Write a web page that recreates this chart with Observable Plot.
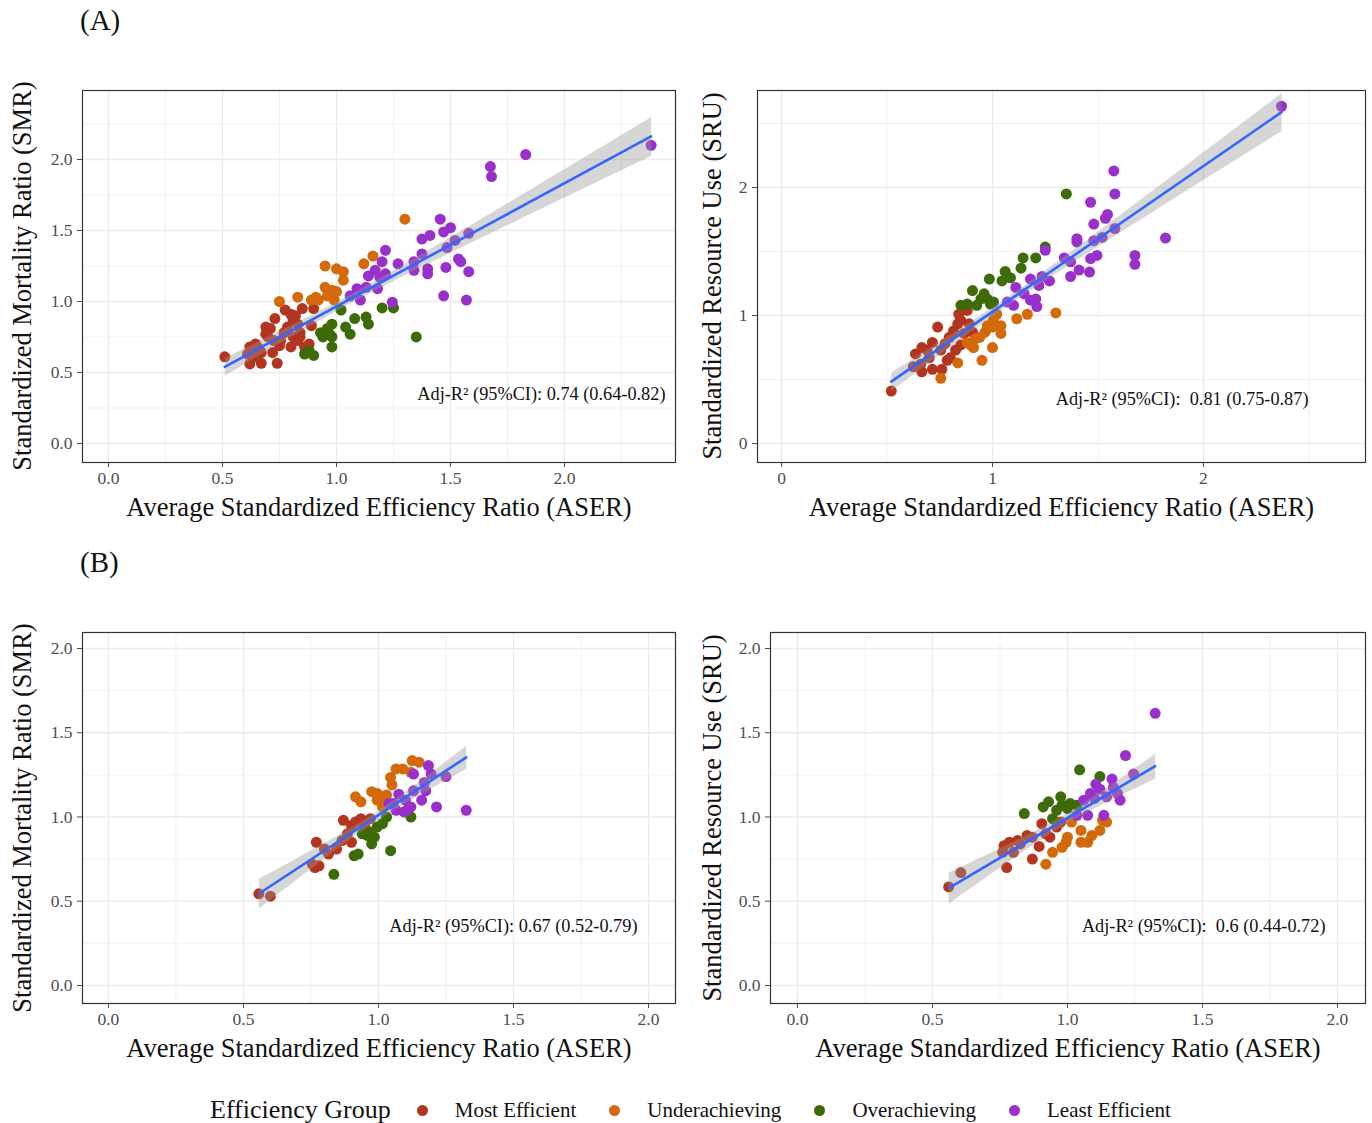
<!DOCTYPE html>
<html>
<head>
<meta charset="utf-8">
<script src="https://cdn.jsdelivr.net/npm/d3@7"></script>
<script src="https://cdn.jsdelivr.net/npm/@observablehq/plot@0.6"></script>
<style>
  html, body { margin: 0; padding: 0; background: #fff; }
  #root { position: relative; width: 1372px; height: 1123px; font-family: 'Liberation Serif', 'Times New Roman', serif; overflow: hidden; }
  .tag { position: absolute; font-size: 29px; color: #111; }
  .ytitle { position: absolute; font-size: 26.5px; color: #111; white-space: nowrap; transform: translate(-50%, -50%) rotate(-90deg); line-height: 1; }
  #legend { position: absolute; left: 210px; top: 1095px; display: flex; align-items: center; white-space: nowrap; color: #111; }
  #legend .ttl { font-size: 26px; margin-right: 26px; }
  #legend .item { display: flex; align-items: center; font-size: 21px; margin-right: 33px; }
  #legend .sw { width: 11px; height: 11px; border-radius: 50%; margin-right: 27px; }
</style>
</head>
<body>
<div id="root">
  <div class="tag" style="left:80px; top:4px;">(A)</div>
  <div class="tag" style="left:80px; top:546px;">(B)</div>
  <div id="legend"></div>
</div>
<script>
// ---------- data ----------
const groups = ["Most Efficient", "Underachieving", "Overachieving", "Least Efficient"];
const groupColors = ["#b3351f", "#d4690a", "#3d6b08", "#9a30cc"];

// Panel A, left: ASER vs SMR
const aSmrMost = [[0.51,0.61],[0.62,0.68],[0.645,0.70],[0.66,0.67],[0.64,0.62],[0.62,0.56],[0.67,0.565],[0.74,0.565],[0.69,0.82],[0.71,0.81],[0.73,0.88],[0.70,0.75],[0.725,0.725],[0.755,0.725],[0.77,0.78],[0.785,0.82],[0.775,0.94],[0.80,0.91],[0.82,0.90],[0.81,0.87],[0.85,0.95],[0.83,0.84],[0.84,0.78],[0.81,0.75],[0.83,0.725],[0.86,0.68],[0.88,0.70],[0.75,0.69],[0.72,0.64],[0.67,0.64],[0.61,0.63],[0.84,0.75],[0.80,0.68],[0.89,0.83],[0.90,0.95],[0.69,0.77],[0.645,0.61]];
const aSmrUnder = [[1.30,1.58],[0.95,1.25],[1.00,1.23],[1.03,1.21],[1.03,1.15],[1.12,1.265],[1.16,1.32],[0.95,1.10],[0.98,1.08],[1.00,1.07],[0.91,1.03],[0.89,1.01],[0.83,1.03],[0.75,1.00],[0.99,1.01],[0.96,1.04],[0.92,1.01]];
const aSmrOver = [[1.02,0.94],[1.08,0.88],[1.13,0.89],[1.14,0.84],[1.20,0.955],[1.25,0.955],[1.35,0.75],[0.98,0.84],[0.96,0.81],[0.93,0.78],[0.94,0.75],[0.98,0.75],[1.04,0.82],[1.06,0.77],[0.98,0.68],[0.90,0.62],[0.86,0.63],[0.88,0.655],[0.97,0.77]];
const aSmrLeast = [[1.215,1.36],[1.20,1.28],[1.27,1.265],[1.17,1.22],[1.14,1.18],[1.19,1.17],[1.215,1.195],[1.18,1.09],[1.13,1.10],[1.09,1.09],[1.06,1.04],[1.105,1.01],[1.245,0.995],[1.375,1.44],[1.41,1.465],[1.455,1.58],[1.47,1.49],[1.50,1.52],[1.52,1.43],[1.58,1.48],[1.485,1.38],[1.375,1.335],[1.34,1.28],[1.34,1.22],[1.40,1.23],[1.40,1.195],[1.48,1.24],[1.535,1.30],[1.545,1.28],[1.58,1.21],[1.47,1.04],[1.57,1.01],[1.83,2.035],[1.675,1.95],[1.68,1.88],[2.38,2.10]];

// Panel A, right: ASER vs SRU
const aSruMost = [[0.52,0.41],[0.635,0.70],[0.665,0.75],[0.715,0.79],[0.74,0.91],[0.625,0.60],[0.66,0.62],[0.70,0.67],[0.715,0.58],[0.76,0.58],[0.755,0.73],[0.775,0.78],[0.795,0.83],[0.80,0.67],[0.825,0.73],[0.815,0.88],[0.835,0.935],[0.85,0.96],[0.84,1.01],[0.88,1.04],[0.865,0.86],[0.85,0.77],[0.89,0.935],[0.69,0.73],[0.785,0.65],[0.905,0.87],[0.665,0.56]];
const aSruUnder = [[0.755,0.51],[0.835,0.63],[0.95,0.65],[1.00,0.75],[0.895,0.77],[0.92,0.82],[0.94,0.83],[0.965,0.87],[0.975,0.92],[1.005,0.97],[1.02,1.01],[1.04,0.92],[1.04,0.86],[1.00,0.91],[1.115,0.975],[1.165,1.01],[1.30,1.02],[0.91,0.75],[0.88,0.79]];
const aSruOver = [[1.35,1.95],[1.25,1.535],[1.205,1.45],[1.145,1.45],[1.135,1.37],[1.06,1.345],[1.045,1.27],[1.085,1.295],[0.985,1.285],[0.905,1.195],[0.96,1.17],[0.975,1.13],[1.005,1.105],[0.925,1.08],[0.88,1.09],[0.85,1.08],[0.99,1.09],[0.945,1.13]];
const aSruLeast = [[1.575,2.13],[1.58,1.95],[1.465,1.885],[1.48,1.715],[1.545,1.79],[1.535,1.76],[1.40,1.60],[1.40,1.575],[1.48,1.585],[1.58,1.68],[1.52,1.61],[1.34,1.45],[1.37,1.42],[1.41,1.355],[1.37,1.305],[1.46,1.34],[1.465,1.445],[1.495,1.47],[1.25,1.51],[1.235,1.305],[1.27,1.27],[1.18,1.285],[1.22,1.235],[1.11,1.22],[1.15,1.17],[1.205,1.13],[1.07,1.105],[1.10,1.08],[1.21,1.07],[1.18,1.12],[1.82,1.605],[1.675,1.47],[1.675,1.40],[2.37,2.635]];

// Panel B, left: ASER vs SMR
const bSmrMost = [[0.557,0.544],[0.60,0.53],[0.77,0.85],[0.755,0.72],[0.78,0.71],[0.80,0.81],[0.815,0.78],[0.845,0.81],[0.865,0.86],[0.87,0.98],[0.90,0.95],[0.90,0.85],[0.885,0.90],[0.935,0.99],[0.95,0.94],[0.97,0.99],[0.945,0.97],[0.915,0.97],[0.765,0.70]];
const bSmrUnder = [[0.915,1.12],[0.935,1.09],[0.975,1.15],[0.995,1.14],[1.015,1.12],[1.03,1.13],[1.05,1.19],[1.045,1.235],[1.065,1.285],[1.09,1.285],[1.125,1.335],[1.15,1.325],[1.12,1.265],[1.015,1.06],[0.995,1.10]];
const bSmrOver = [[0.835,0.66],[0.91,0.77],[0.925,0.78],[1.045,0.80],[0.975,0.84],[0.96,0.89],[0.94,0.90],[0.97,0.91],[0.995,0.94],[1.015,0.96],[1.03,1.00],[1.12,1.00],[0.985,0.88]];
const bSmrLeast = [[1.325,1.04],[1.215,1.06],[1.16,1.10],[1.185,1.305],[1.195,1.255],[1.17,1.205],[1.175,1.155],[1.13,1.255],[1.13,1.155],[1.12,1.06],[1.095,1.03],[1.10,1.10],[1.075,1.135],[1.055,1.08],[1.04,1.08],[1.065,1.04],[1.25,1.24],[1.105,1.04]];

// Panel B, right: ASER vs SRU
const bSruMost = [[0.56,0.585],[0.605,0.67],[0.775,0.70],[0.765,0.83],[0.785,0.85],[0.80,0.79],[0.825,0.84],[0.85,0.89],[0.87,0.88],[0.87,0.75],[0.895,0.825],[0.905,0.96],[0.92,0.90],[0.935,0.88],[0.96,0.94],[0.975,0.97],[0.76,0.79],[0.815,0.86]];
const bSruUnder = [[0.92,0.72],[0.945,0.79],[0.98,0.82],[1.00,0.88],[1.015,0.97],[1.05,0.85],[1.075,0.85],[1.09,0.89],[1.12,0.92],[1.13,0.98],[1.145,0.97],[1.05,0.92],[0.995,0.85]];
const bSruOver = [[0.84,1.02],[0.91,1.06],[0.93,1.09],[0.975,1.12],[0.98,1.07],[0.96,1.04],[1.01,1.08],[1.035,1.07],[0.945,0.99],[1.045,1.28],[1.12,1.24],[1.00,1.05]];
const bSruLeast = [[1.325,1.615],[1.215,1.365],[1.245,1.255],[1.165,1.225],[1.105,1.195],[1.12,1.165],[1.085,1.14],[1.06,1.10],[1.10,1.11],[1.17,1.175],[1.185,1.14],[1.195,1.10],[1.135,1.01],[1.075,1.01],[1.035,1.01],[1.145,1.12]];

// tick values
const ticksHalf = [0, 0.5, 1.0, 1.5, 2.0];
const minorHalf = [0.25, 0.75, 1.25, 1.75, 2.25];
const ticksOne = [0, 1, 2];
const minorOne = [0.5, 1.5, 2.5];

const xTitle = "Average Standardized Efficiency Ratio (ASER)";
const smrTitle = "Standardized Mortality Ratio (SMR)";
const sruTitle = "Standardized Resource Use (SRU)";
const notes = ["Adj-R² (95%CI): 0.74 (0.64-0.82)", "Adj-R² (95%CI):\u00a0 0.81 (0.75-0.87)", "Adj-R² (95%CI): 0.67 (0.52-0.79)", "Adj-R² (95%CI):\u00a0 0.6 (0.44-0.72)"];

// ---------- drawing ----------
const FONT = "'Liberation Serif', 'Times New Roman', serif";
const root = document.getElementById("root");

function rowsOf(sets) {
  const rows = [];
  sets.forEach((pts, i) => pts.forEach(([x, y]) => rows.push({x, y, g: groups[i]})));
  return rows;
}

function panel(o) {
  const [x0, x1, y0, y1] = o.frame;
  const mL = 90, mR = 10, mT = 10, mB = 70;
  const rows = rowsOf(o.sets);
  const inX = v => v >= o.xDomain[0] && v <= o.xDomain[1];
  const inY = v => v >= o.yDomain[0] && v <= o.yDomain[1];
  const grid = "#ebebeb";
  const chart = Plot.plot({
    width: (x1 - x0) + mL + mR,
    height: (y1 - y0) + mT + mB,
    marginLeft: mL, marginRight: mR, marginTop: mT, marginBottom: mB,
    x: {domain: o.xDomain},
    y: {domain: o.yDomain},
    color: {domain: groups, range: groupColors},
    style: {fontFamily: FONT, background: "transparent", overflow: "visible"},
    marks: [
      Plot.gridX(o.xMinor.filter(inX), {stroke: grid, strokeOpacity: 1, strokeWidth: 0.7}),
      Plot.gridY(o.yMinor.filter(inY), {stroke: grid, strokeOpacity: 1, strokeWidth: 0.7}),
      Plot.gridX(o.xMajor.filter(inX), {stroke: grid, strokeOpacity: 1, strokeWidth: 1.4}),
      Plot.gridY(o.yMajor.filter(inY), {stroke: grid, strokeOpacity: 1, strokeWidth: 1.4}),
      Plot.dot(rows, {x: "x", y: "y", fill: "g", r: 5.5, stroke: null}),
      Plot.linearRegressionY(rows, {x: "x", y: "y", stroke: "#3366ff", strokeWidth: 2.6, fill: "#999999", fillOpacity: 0.4}),
      Plot.frame({stroke: "#333333", strokeWidth: 1.2}),
      Plot.axisX(o.xMajor, {tickSize: 5, tickPadding: 4, fontSize: 17.5, color: "#4d4d4d", tickFormat: o.fmt, label: null}),
      Plot.axisY(o.yMajor, {tickSize: 5, tickPadding: 5, fontSize: 17.5, color: "#4d4d4d", tickFormat: o.fmt, label: null}),
      Plot.text([xTitle], {text: d => d, frameAnchor: "bottom", lineAnchor: "middle", dy: 45, fontSize: 26.5, fill: "#111"}),
      Plot.text([o.note], {text: d => d, frameAnchor: "bottom-right", textAnchor: "end", lineAnchor: "middle", dx: o.noteDx, dy: o.noteDy, fontSize: 18.3, fill: "#111"})
    ]
  });
  chart.style.position = "absolute";
  chart.style.left = (x0 - mL) + "px";
  chart.style.top = (y0 - mT) + "px";
  chart.style.maxWidth = "none";
  root.appendChild(chart);
  const yt = document.createElement("div");
  yt.className = "ytitle";
  yt.textContent = o.yTitle;
  yt.style.left = (x0 + o.yTitleDx) + "px";
  yt.style.top = ((y0 + y1) / 2) + "px";
  root.appendChild(yt);
}

const f1 = d3.format(".1f");
const f0 = d3.format("d");

panel({frame: [82, 675, 90, 462], sets: [aSmrMost, aSmrUnder, aSmrOver, aSmrLeast],
  xDomain: [-0.114, 2.487], yDomain: [-0.134, 2.486], xMajor: ticksHalf, xMinor: minorHalf, yMajor: ticksHalf, yMinor: minorHalf,
  fmt: f1, yTitle: smrTitle, yTitleDx: -60, note: notes[0], noteDx: -10, noteDy: -68});
panel({frame: [757, 1365, 90, 462], sets: [aSruMost, aSruUnder, aSruOver, aSruLeast],
  xDomain: [-0.114, 2.768], yDomain: [-0.148, 2.758], xMajor: ticksOne, xMinor: minorOne, yMajor: ticksOne, yMinor: minorOne,
  fmt: f0, yTitle: sruTitle, yTitleDx: -45, note: notes[1], noteDx: -57, noteDy: -63});
panel({frame: [82, 675, 632, 1003], sets: [bSmrMost, bSmrUnder, bSmrOver, bSmrLeast],
  xDomain: [-0.096, 2.1], yDomain: [-0.107, 2.095], xMajor: ticksHalf, xMinor: minorHalf, yMajor: ticksHalf, yMinor: minorHalf,
  fmt: f1, yTitle: smrTitle, yTitleDx: -60, note: notes[2], noteDx: -38, noteDy: -77});
panel({frame: [770, 1365, 632, 1003], sets: [bSruMost, bSruUnder, bSruOver, bSruLeast],
  xDomain: [-0.1, 2.104], yDomain: [-0.107, 2.095], xMajor: ticksHalf, xMinor: minorHalf, yMajor: ticksHalf, yMinor: minorHalf,
  fmt: f1, yTitle: sruTitle, yTitleDx: -58, note: notes[3], noteDx: -40, noteDy: -77});

// legend
const legend = document.getElementById("legend");
const t = document.createElement("span");
t.className = "ttl"; t.textContent = "Efficiency Group";
legend.appendChild(t);
groups.forEach((g, i) => {
  const it = document.createElement("span"); it.className = "item";
  const sw = document.createElement("span"); sw.className = "sw"; sw.style.background = groupColors[i];
  const lb = document.createElement("span"); lb.textContent = g;
  it.appendChild(sw); it.appendChild(lb); legend.appendChild(it);
});
</script>
</body>
</html>
